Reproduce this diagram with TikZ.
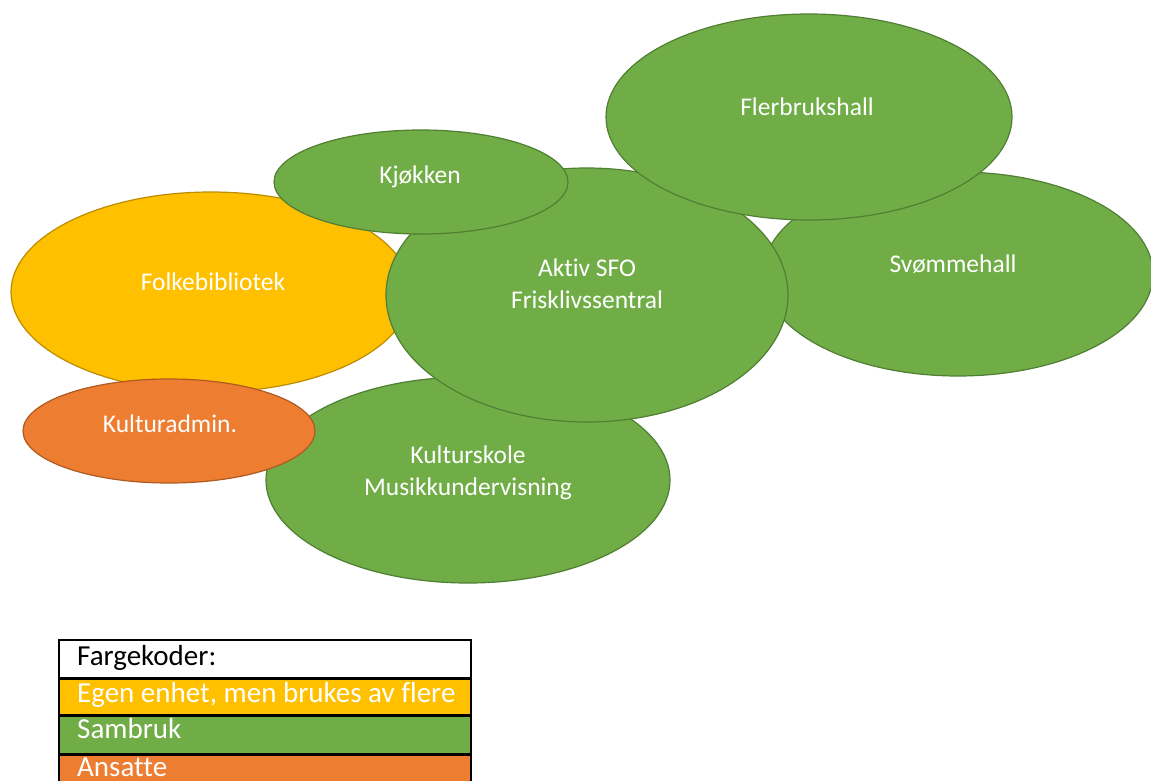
\documentclass[tikz,border=0pt]{standalone}
\usepackage{fontspec}
\setmainfont{Carlito}[Ligatures=NoCommon]
\usetikzlibrary{shapes.geometric}

\definecolor{sgreen}{HTML}{70AD47}
\definecolor{sgreenline}{HTML}{507E32}
\definecolor{syellow}{HTML}{FFC000}
\definecolor{syellowline}{HTML}{BC8C00}
\definecolor{sorange}{HTML}{ED7D31}
\definecolor{sorangeline}{HTML}{AE5A21}

\begin{document}
\begin{tikzpicture}[x=1pt,y=-1pt,
  blob/.style={ellipse, inner sep=0pt, line width=1.2pt},
  shared/.style={blob, fill=sgreen, draw=sgreenline},
  own/.style={blob, fill=syellow, draw=syellowline},
  staff/.style={blob, fill=sorange, draw=sorangeline},
  % multi-line labels sit on the baseline of their last line
  lbl/.style={text=white, font=\fontsize{25.5}{31.5}\selectfont, align=center,
    inner sep=0pt, anchor=base},
  legcell/.style={draw=black, line width=1.5pt, anchor=north west,
    inner sep=0pt, minimum width=412pt},
  legtext/.style={anchor=base west, inner sep=0pt,
    font=\fontsize{29}{34}\selectfont}]

\useasboundingbox (0,0) rectangle (1151,781);
\clip (0,0) rectangle (1151,781);

% units, back to front
\node[own,    minimum width=400pt, minimum height=200pt] (folk)   at (211,292) {};
\node[shared, minimum width=390pt, minimum height=204pt] (svom)   at (958,274) {};
\node[shared, minimum width=404pt, minimum height=206pt] (kskole) at (468,480) {};
\node[shared, minimum width=402pt, minimum height=254pt] (aktiv)  at (587,295) {};
\node[shared, minimum width=406pt, minimum height=206pt] (fler)   at (809,117) {};
\node[shared, minimum width=294pt, minimum height=104pt] (kjok)   at (421,182) {};
\node[staff,  minimum width=292pt, minimum height=104pt] (kadm)   at (169,431) {};

% labels
\node[lbl] (fler-t)   at (807,116) {Flerbrukshall};
\node[lbl] (kjok-t)   at (420,183) {Kjøkken};
\node[lbl] (folk-t)   at (213,290) {Folkebibliotek};
\node[lbl] (aktiv-t)  at (587,308) {Aktiv SFO\\Frisklivssentral};
\node[lbl] (svom-t)   at (953,272) {Svømmehall};
\node[lbl] (kadm-t)   at (170,432) {Kulturadmin.};
\node[lbl] (kskole-t) at (468,495) {Kulturskole\\Musikkundervisning};

% colour key
\node[legcell, fill=white,   minimum height=38pt] (key)        at (58,639) {};
\node[legcell, fill=syellow, minimum height=35pt] (key-own)    at (key.south west) {};
\node[legcell, fill=sgreen,  minimum height=38pt] (key-shared) at (key-own.south west) {};
\node[legcell, fill=sorange, minimum height=38pt] (key-staff)  at (key-shared.south west) {};
\node[legtext]             (key-t)        at (77,665) {Fargekoder:};
\node[legtext, text=white] (key-own-t)    at (77,702) {Egen enhet, men brukes av flere};
\node[legtext, text=white] (key-shared-t) at (77,738) {Sambruk};
\node[legtext, text=white] (key-staff-t)  at (77,776) {Ansatte};
\end{tikzpicture}
\end{document}
